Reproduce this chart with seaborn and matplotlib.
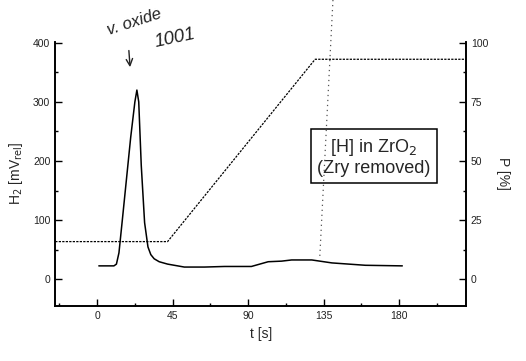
import numpy as np
import pandas as pd
import seaborn as sns
import matplotlib.pyplot as plt
from matplotlib.ticker import MultipleLocator
from matplotlib.lines import Line2D

# H2 signal (mV_rel) versus time (s)
t_h2 = [1, 10, 11.5, 13, 15, 17.5, 20, 22.5, 23.7, 24.8, 26.3, 28.3, 30.3, 32, 34, 37, 42, 52, 64, 76, 92, 102, 110, 116, 128, 140, 160, 182]
h2 = [23, 23, 26, 45, 100, 170, 240, 300, 320, 300, 193, 96, 55, 42, 35, 30, 26, 21, 21, 22, 22, 30, 31, 33, 33, 28, 24, 23]

# Power (%) versus time (s)
t_p = [-25, 42, 130, 220]
p = [16, 16, 93, 93]

x_ticks = [0, 45, 90, 135, 180]
h2_ticks = [0, 100, 200, 300, 400]
p_ticks = [0, 25, 50, 75, 100]

df_h2 = pd.DataFrame({"t": t_h2, "H2": h2})
df_p = pd.DataFrame({"t": t_p, "P": p})

sns.set_theme(style="ticks")
plt.rcParams["font.family"] = ["Liberation Sans", "DejaVu Sans"]

fig = plt.figure(figsize=(5.26, 3.61), dpi=100)
ax = fig.add_axes([0.105, 0.152, 0.781, 0.733])
ax2 = ax.twinx()

sns.lineplot(data=df_h2, x="t", y="H2", ax=ax, color="black", linewidth=1.1)
sns.lineplot(data=df_p, x="t", y="P", ax=ax2, color="black", linewidth=0.9,
             linestyle=(0, (1.8, 1.0)))

ax.set_xlim(-25, 220)
ax.set_ylim(-45, 402)
ax2.set_ylim(-11.25, 100.5)

ax.set_xticks(x_ticks)
ax.set_yticks(h2_ticks)
ax2.set_yticks(p_ticks)
ax.xaxis.set_minor_locator(MultipleLocator(22.5))
ax.yaxis.set_minor_locator(MultipleLocator(50))
ax2.yaxis.set_minor_locator(MultipleLocator(12.5))

for a in (ax, ax2):
    a.tick_params(which="both", direction="in", labelsize=7.5, width=1.0, color="black",
                  labelcolor="#222222")
    a.tick_params(which="major", length=5)
    a.tick_params(which="minor", length=2.5)
    a.spines["top"].set_visible(False)
    for s in ("left", "right", "bottom"):
        a.spines[s].set_linewidth(1.2)
        a.spines[s].set_color("black")

ax.set_xlabel("t [s]", fontsize=10, labelpad=4)
ax.set_ylabel(r"H$_2$ [mV$_{\rm rel}$]", fontsize=10, labelpad=6)
ax2.set_ylabel("P [%]", fontsize=10, rotation=270, labelpad=16)

ax.text(165, 207, "[H] in ZrO$_2$\n(Zry removed)", fontsize=13, ha="center", va="center",
        linespacing=1.15,
        bbox=dict(boxstyle="square,pad=0.35", facecolor="white", edgecolor="black", linewidth=1.1))

# pencil notes written above the peak
fig.text(0.20, 0.94, "v. oxide", fontsize=12, rotation=18, style="italic",
         color="#222222", ha="left", va="center")
fig.text(0.29, 0.895, "1001", fontsize=13.5, rotation=12, style="italic",
         color="#222222", ha="left", va="center")
fig.add_artist(Line2D([0.245, 0.247], [0.86, 0.82], color="#222222", linewidth=1.0))
fig.add_artist(Line2D([0.240, 0.247, 0.252], [0.835, 0.818, 0.838], color="#222222", linewidth=1.0))
fig.add_artist(Line2D([0.633, 0.608], [1.0, 0.29], color="#555555", linewidth=0.9,
                      linestyle=(0, (1, 3))))

fig.savefig("out.png", dpi=100)
